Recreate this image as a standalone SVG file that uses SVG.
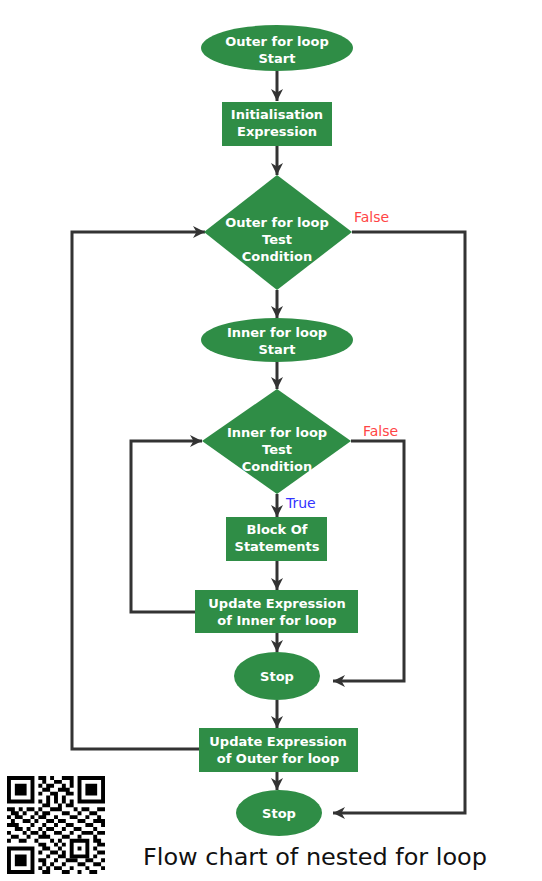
<svg xmlns="http://www.w3.org/2000/svg" width="542" height="881" viewBox="0 0 542 881">
<style>
.n{fill:#2f8d46}
.t{font-family:"DejaVu Sans","Liberation Sans",sans-serif;font-weight:700;font-size:13px;fill:#fff;text-anchor:middle}
.c{fill:none;stroke:#333;stroke-width:3}
.lf{font-family:"DejaVu Sans","Liberation Sans",sans-serif;font-size:14px;fill:#ff4545}
.lt{font-family:"DejaVu Sans","Liberation Sans",sans-serif;font-size:14px;fill:#3333ff}
</style>
<defs>
<marker id="ah" viewBox="0 0 12 12" refX="12" refY="6" markerWidth="12" markerHeight="12" markerUnits="userSpaceOnUse" orient="auto">
<path d="M0 0 L12 6 L0 12 L3.5 6 Z" fill="#333"/>
</marker>
</defs>
<rect width="542" height="881" fill="#fff"/>
<g id="connectors">
<path class="c" marker-end="url(#ah)" d="M277 71V101"/>
<path class="c" marker-end="url(#ah)" d="M277 146V175"/>
<path class="c" marker-end="url(#ah)" d="M277 290V318"/>
<path class="c" marker-end="url(#ah)" d="M277 362V389"/>
<path class="c" marker-end="url(#ah)" d="M277 494V517"/>
<path class="c" marker-end="url(#ah)" d="M277 561V590"/>
<path class="c" marker-end="url(#ah)" d="M277 633V652"/>
<path class="c" marker-end="url(#ah)" d="M277 700V728"/>
<path class="c" marker-end="url(#ah)" d="M277 772V790"/>
<path class="c" marker-end="url(#ah)" d="M352 232H465V813H333"/>
<path class="c" marker-end="url(#ah)" d="M351 441H404V681H333"/>
<path class="c" marker-end="url(#ah)" d="M195 612H131V441H202"/>
<path class="c" marker-end="url(#ah)" d="M199 749H72V232H205"/>
</g>
<g id="outer-start"><ellipse class="n" cx="277" cy="48" rx="76" ry="23"/><text class="t" x="277" y="46">Outer for loop</text><text class="t" x="277" y="63">Start</text></g>
<g id="init"><rect class="n" x="222" y="102" width="110" height="44"/><text class="t" x="277" y="119">Initialisation</text><text class="t" x="277" y="136">Expression</text></g>
<g id="outer-test"><polygon class="n" points="277,175 352,232 277,290 204,232"/><text class="t" x="277" y="227">Outer for loop</text><text class="t" x="277" y="244">Test</text><text class="t" x="277" y="261">Condition</text></g>
<text class="lf" x="354" y="222">False</text>
<g id="inner-start"><ellipse class="n" cx="277" cy="340" rx="76" ry="22"/><text class="t" x="277" y="337">Inner for loop</text><text class="t" x="277" y="354">Start</text></g>
<g id="inner-test"><polygon class="n" points="277,389 351,441 277,494 202,441"/><text class="t" x="277" y="437">Inner for loop</text><text class="t" x="277" y="454">Test</text><text class="t" x="277" y="471">Condition</text></g>
<text class="lf" x="363" y="436">False</text>
<text class="lt" x="286" y="508">True</text>
<g id="block"><rect class="n" x="226" y="517" width="101" height="44"/><text class="t" x="277" y="534">Block Of</text><text class="t" x="277" y="551">Statements</text></g>
<g id="update-inner"><rect class="n" x="195" y="590" width="163" height="43"/><text class="t" x="277" y="608">Update Expression</text><text class="t" x="277" y="625">of Inner for loop</text></g>
<g id="stop-inner"><ellipse class="n" cx="277" cy="676" rx="43" ry="24"/><text class="t" x="277" y="681">Stop</text></g>
<g id="update-outer"><rect class="n" x="199" y="728" width="159" height="44"/><text class="t" x="278" y="746">Update Expression</text><text class="t" x="278" y="763">of Outer for loop</text></g>
<g id="stop-outer"><ellipse class="n" cx="279" cy="813" rx="43" ry="23"/><text class="t" x="279" y="818">Stop</text></g>
<text x="143" y="865" font-family="DejaVu Sans,sans-serif" font-size="23" fill="#111" textLength="344" lengthAdjust="spacingAndGlyphs">Flow chart of nested for loop</text>
<g id="qr" transform="translate(7,776) scale(3.92)" fill="#000">
<path fill-rule="evenodd" d="M0 0h7v7h-7zM1 1v5h5v-5zM2 2h3v3h-3z M18 0h7v7h-7zM19 1v5h5v-5zM20 2h3v3h-3z M0 18h7v7h-7zM1 19v5h5v-5zM2 20h3v3h-3z M16 16h5v5h-5zM17 17v3h3v-3zM18 18h1v1h-1z"/>
<path d="M8 0h2v1h-2zM11 0h1v1h-1zM14 0h3v1h-3zM9 1h1v1h-1zM12 1h2v1h-2zM16 1h1v1h-1zM8 2h1v1h-1zM10 2h2v1h-2zM14 2h1v1h-1zM16 2h1v1h-1zM9 3h2v1h-2zM13 3h3v1h-3zM8 4h1v1h-1zM11 4h2v1h-2zM15 4h2v1h-2zM10 5h1v1h-1zM12 5h1v1h-1zM14 5h1v1h-1zM8 6h1v1h-1zM10 6h1v1h-1zM12 6h1v1h-1zM14 6h1v1h-1zM16 6h1v1h-1zM9 7h2v1h-2zM13 7h1v1h-1zM15 7h2v1h-2zM0 8h2v1h-2zM3 8h1v1h-1zM5 8h2v1h-2zM8 8h1v1h-1zM11 8h3v1h-3zM17 8h1v1h-1zM19 8h2v1h-2zM23 8h2v1h-2zM1 9h2v1h-2zM4 9h1v1h-1zM7 9h1v1h-1zM9 9h2v1h-2zM14 9h2v1h-2zM18 9h1v1h-1zM21 9h2v1h-2zM0 10h1v1h-1zM2 10h2v1h-2zM6 10h1v1h-1zM8 10h2v1h-2zM12 10h1v1h-1zM16 10h2v1h-2zM20 10h1v1h-1zM23 10h1v1h-1zM1 11h1v1h-1zM4 11h2v1h-2zM7 11h1v1h-1zM10 11h2v1h-2zM13 11h2v1h-2zM18 11h2v1h-2zM22 11h3v1h-3zM0 12h3v1h-3zM6 12h1v1h-1zM9 12h1v1h-1zM12 12h1v1h-1zM15 12h2v1h-2zM20 12h2v1h-2zM24 12h1v1h-1zM2 13h2v1h-2zM5 13h1v1h-1zM8 13h1v1h-1zM10 13h2v1h-2zM14 13h1v1h-1zM17 13h2v1h-2zM22 13h1v1h-1zM0 14h1v1h-1zM4 14h1v1h-1zM6 14h2v1h-2zM9 14h1v1h-1zM12 14h2v1h-2zM16 14h1v1h-1zM19 14h3v1h-3zM23 14h2v1h-2zM1 15h2v1h-2zM5 15h1v1h-1zM8 15h3v1h-3zM14 15h2v1h-2zM18 15h1v1h-1zM22 15h1v1h-1zM0 16h1v1h-1zM3 16h2v1h-2zM7 16h1v1h-1zM11 16h1v1h-1zM13 16h1v1h-1zM22 16h2v1h-2zM8 17h2v1h-2zM12 17h1v1h-1zM14 17h1v1h-1zM23 17h2v1h-2zM9 18h2v1h-2zM13 18h1v1h-1zM22 18h1v1h-1zM8 19h1v1h-1zM11 19h2v1h-2zM14 19h1v1h-1zM23 19h2v1h-2zM10 20h1v1h-1zM13 20h2v1h-2zM22 20h1v1h-1zM8 21h2v1h-2zM12 21h1v1h-1zM15 21h3v1h-3zM20 21h2v1h-2zM24 21h1v1h-1zM9 22h1v1h-1zM11 22h1v1h-1zM14 22h1v1h-1zM18 22h2v1h-2zM22 22h2v1h-2zM8 23h1v1h-1zM10 23h1v1h-1zM12 23h2v1h-2zM16 23h1v1h-1zM20 23h1v1h-1zM24 23h1v1h-1zM9 24h2v1h-2zM14 24h2v1h-2zM18 24h1v1h-1zM21 24h2v1h-2z"/>
</g>
</svg>
